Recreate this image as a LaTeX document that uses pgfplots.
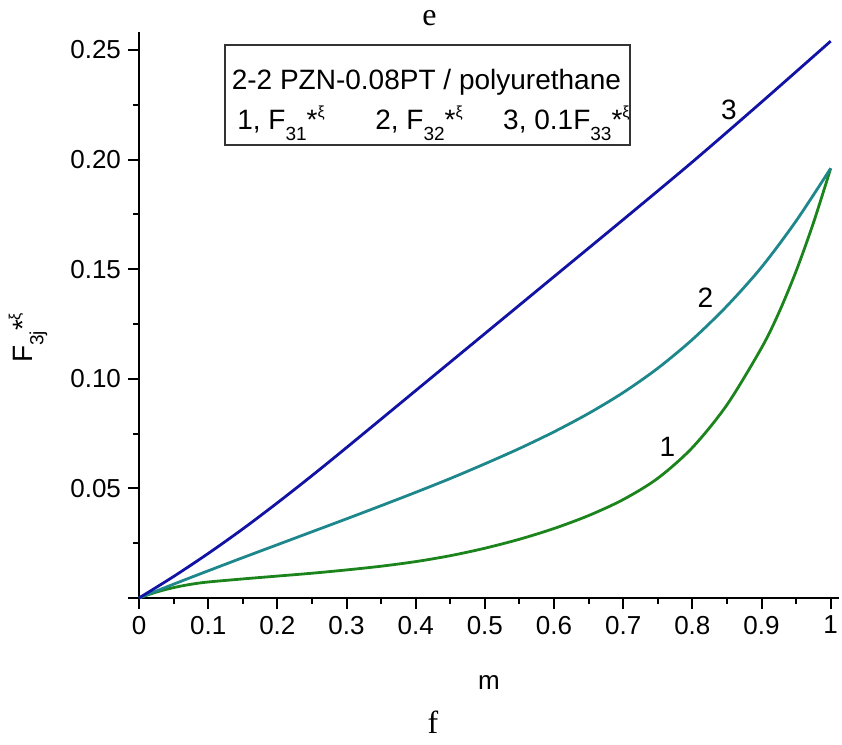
\documentclass[border=0pt]{standalone}
\usepackage{fontspec}
\setmainfont{Liberation Sans}
\newfontfamily\seriffont{Liberation Serif}
\usepackage{pgfplots}
\pgfplotsset{compat=1.18}

\definecolor{cOne}{RGB}{28,132,28}
\definecolor{cTwo}{RGB}{30,135,140}
\definecolor{cThree}{RGB}{18,18,165}

% F with a lowered index, an asterisk and a small raised xi
\newcommand\Fx[1]{F\raisebox{-5.5pt}{\fontsize{9.5}{9.5}\selectfont #1}*\raisebox{6pt}{\fontsize{8}{8}\selectfont ξ}}

\pgfplotstableread{
m F
0     0
0.02  0.0022
0.04  0.0040
0.06  0.0054
0.08  0.0065
0.10  0.0073
0.15  0.0087
0.20  0.0100
0.25  0.0113
0.30  0.0128
0.35  0.0145
0.40  0.0166
0.45  0.0193
0.50  0.0227
0.55  0.0268
0.60  0.0317
0.65  0.0376
0.70  0.0449
0.75  0.0546
0.80  0.0686
0.85  0.0881
0.90  0.1141
0.925 0.1301
0.95  0.1491
0.975 0.1711
1.00  0.1960
}\curveOne

\pgfplotstableread{
m F
0     0
0.05  0.0063
0.10  0.0124
0.15  0.0184
0.20  0.0243
0.25  0.0302
0.30  0.0361
0.35  0.0421
0.40  0.0482
0.45  0.0545
0.50  0.0612
0.55  0.0682
0.60  0.0758
0.65  0.0842
0.70  0.0937
0.75  0.1048
0.80  0.1179
0.85  0.1332
0.90  0.1509
0.95  0.1720
1.00  0.1960
}\curveTwo

\pgfplotstableread{
m F
0     0
0.05  0.0098
0.10  0.0203
0.15  0.0315
0.20  0.0434
0.25  0.0558
0.30  0.0686
0.40  0.0946
0.50  0.1206
0.60  0.1466
0.70  0.1726
0.80  0.1989
0.90  0.2262
1.00  0.2540
}\curveThree

\begin{document}
\begin{tikzpicture}
\useasboundingbox (-69.5pt,-73.5pt) rectangle (351.5pt,299pt);
\begin{axis}[
  scale only axis,
  width=350pt, height=282.8pt,
  xmin=0, xmax=1.012, ymin=0, ymax=0.258,
  axis lines=left,
  axis line style={-, line width=1pt},
  tick align=outside,
  major tick length=5.5pt,
  minor tick length=3pt,
  every tick/.style={black, line width=1pt},
  xtick={0,0.1,...,1.0},
  xticklabels={0,0.1,0.2,0.3,0.4,0.5,0.6,0.7,0.8,0.9,1},
  minor xtick={0.05,0.15,...,0.95},
  ytick={0,0.05,0.10,0.15,0.20,0.25},
  yticklabels={,0.05,0.10,0.15,0.20,0.25},
  minor ytick={0.025,0.075,0.125,0.175,0.225},
  tick label style={font=\fontsize{13}{13}\selectfont},
  xlabel={m},
  xlabel style={at={(axis description cs:0.5,0)}, anchor=center, yshift=-42.5pt, font=\fontsize{13}{13}\selectfont},
  ylabel={\Fx{3j}},
  ylabel style={at={([xshift=-55.5pt]axis description cs:0,0.46)}, anchor=center, font=\fontsize{14}{14}\selectfont},
  clip=false,
]
\addplot[cOne, line width=1.4pt, smooth] table[x=m, y=F] {\curveOne};
\addplot[cTwo, line width=1.4pt, smooth] table[x=m, y=F] {\curveTwo};
\addplot[cThree, line width=1.4pt, smooth] table[x=m, y=F] {\curveThree};

% curve numbers
\node[font=\fontsize{14}{14}\selectfont] at (axis cs:0.764,0.0689) {1};
\node[font=\fontsize{14}{14}\selectfont] at (axis cs:0.819,0.1369) {2};
\node[font=\fontsize{14}{14}\selectfont] at (axis cs:0.853,0.2226) {3};

% caption box
\draw[line width=0.8pt, black!80] (axis cs:0.124,0.2067) rectangle (axis cs:0.710,0.2523);
\node[anchor=base, font=\fontsize{14}{14}\selectfont, inner sep=0pt] at (axis cs:0.4155,0.2318) {2-2 PZN-0.08PT / polyurethane};
\node[anchor=base west, font=\fontsize{14}{14}\selectfont, inner sep=0pt] at (axis cs:0.1416,0.2135) {1, \Fx{31}};
\node[anchor=base west, font=\fontsize{14}{14}\selectfont, inner sep=0pt] at (axis cs:0.341,0.2135) {2, \Fx{32}};
\node[anchor=base west, font=\fontsize{14}{14}\selectfont, inner sep=0pt] at (axis cs:0.526,0.2135) {3, 0.1\Fx{33}};

% panel letters
\node[font=\seriffont\fontsize{16}{16}\selectfont] at (axis cs:0.42,0.2645) {e};
\node[font=\seriffont\fontsize{16}{16}\selectfont] at (axis description cs:0.42,0) [yshift=-62pt] {f};
\end{axis}
\end{tikzpicture}
\end{document}
